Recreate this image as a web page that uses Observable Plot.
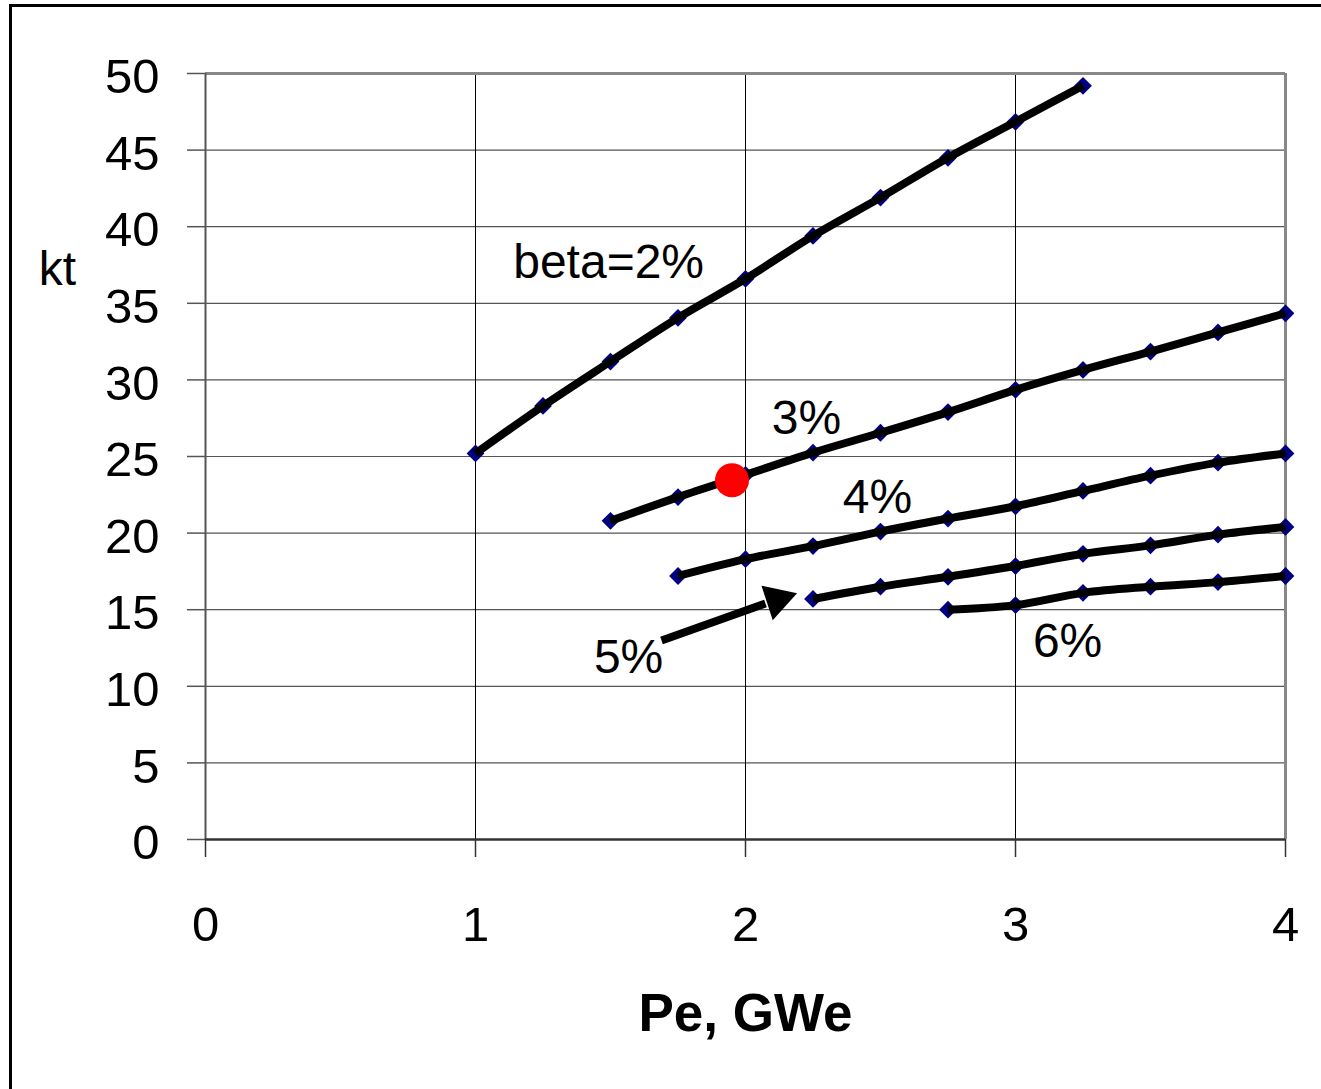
<!DOCTYPE html>
<html>
<head>
<meta charset="utf-8">
<script src="https://cdn.jsdelivr.net/npm/d3@7"></script>
<script src="https://cdn.jsdelivr.net/npm/@observablehq/plot@0.6"></script>
<style>
  html, body { margin: 0; padding: 0; background: #fff; }
  #wrap { position: relative; width: 1321px; height: 1089px; overflow: hidden; }
  #edge { position: absolute; left: 9px; top: 4px; width: 1400px; height: 1200px;
          border-top: 3px solid #000; border-left: 3px solid #000; pointer-events: none; }
</style>
</head>
<body>
<div id="wrap"><div id="edge"></div></div>
<script>
// Electric power Pe (GWe) at each computed point, step 0.25
const pe2 = [1, 1.25, 1.5, 1.75, 2, 2.25, 2.5, 2.75, 3, 3.25];
const pe3 = [1.5, 1.75, 2, 2.25, 2.5, 2.75, 3, 3.25, 3.5, 3.75, 4];
const pe4 = [1.75, 2, 2.25, 2.5, 2.75, 3, 3.25, 3.5, 3.75, 4];
const pe5 = [2.25, 2.5, 2.75, 3, 3.25, 3.5, 3.75, 4];
const pe6 = [2.75, 3, 3.25, 3.5, 3.75, 4];

// Mass (kt) for each beta value
const kt2 = [25.2, 28.3, 31.2, 34.05, 36.6, 39.4, 41.9, 44.5, 46.85, 49.2];
const kt3 = [20.8, 22.35, 23.8, 25.25, 26.55, 27.9, 29.35, 30.65, 31.85, 33.1, 34.35];
const kt4 = [17.2, 18.3, 19.15, 20.1, 20.95, 21.75, 22.75, 23.75, 24.6, 25.2];
const kt5 = [15.7, 16.5, 17.15, 17.85, 18.65, 19.2, 19.9, 20.4];
const kt6 = [15.0, 15.3, 16.1, 16.5, 16.8, 17.2];

const betaNames = ["2%", "3%", "4%", "5%", "6%"];

// Highlighted design point
const designPe = [1.95];
const designKt = [23.45];

// Curve labels and their centre points (Pe, kt)
const labelText = ["beta=2%", "3%", "4%", "5%", "6%"];
const labelPe = [1.493, 2.226, 2.489, 1.567, 3.193];
const labelKt = [37.66, 27.5, 22.3, 11.9, 12.9];

// Pointer from the "5%" label to its curve (tail, head base, head centre)
const pointerPe = [1.689, 2.074, 2.117];
const pointerKt = [12.99, 15.40, 15.65];

// Axis ticks
const xTicks = [0, 1, 2, 3, 4];
const yTicks = [0, 5, 10, 15, 20, 25, 30, 35, 40, 45, 50];

const series = [
  {name: betaNames[0], pe: pe2, kt: kt2},
  {name: betaNames[1], pe: pe3, kt: kt3},
  {name: betaNames[2], pe: pe4, kt: kt4},
  {name: betaNames[3], pe: pe5, kt: kt5},
  {name: betaNames[4], pe: pe6, kt: kt6}
];
const rows = series.flatMap(s => s.pe.map((p, i) => ({beta: s.name, pe: p, kt: s.kt[i]})));
const labels = labelText.map((t, i) => ({text: t, pe: labelPe[i], kt: labelKt[i]}));
const design = designPe.map((p, i) => ({pe: p, kt: designKt[i]}));
const pointer = {x1: pointerPe[0], y1: pointerKt[0], x2: pointerPe[1], y2: pointerKt[1]};
const head = {pe: pointerPe[2], kt: pointerKt[2]};

const font = "'Liberation Sans', Arial, Helvetica, sans-serif";

const chart = Plot.plot({
  width: 1321,
  height: 1089,
  marginLeft: 205,
  marginRight: 36,
  marginTop: 73,
  marginBottom: 250,
  style: {fontFamily: font, background: "transparent", color: "#000", overflow: "visible"},
  x: {domain: [0, 4]},
  y: {domain: [0, 50]},
  marks: [
    Plot.gridY(yTicks.filter(t => t > 0 && t < 50), {stroke: "#555", strokeOpacity: 1, strokeWidth: 1.2}),
    Plot.gridX(xTicks.filter(t => t > 0 && t < 4), {stroke: "#000", strokeOpacity: 1, strokeWidth: 1}),
    Plot.ruleY([50], {stroke: "#888", strokeWidth: 3}),
    Plot.ruleX([4], {stroke: "#888", strokeWidth: 3}),
    Plot.ruleX([0], {stroke: "#555", strokeWidth: 2}),
    Plot.ruleY([0], {stroke: "#333", strokeWidth: 2.5}),
    // y ticks and, separately, their labels (labels sit a little below each tick)
    Plot.axisY(yTicks, {tickSize: 18, stroke: "#555", strokeWidth: 1.5, label: null, tickFormat: () => ""}),
    Plot.axisY(yTicks, {tickSize: 0, tickPadding: 46, dy: 4, fontSize: 49, label: null, tickFormat: d => String(d)}),
    Plot.axisX(xTicks, {tickSize: 18, tickPadding: 49, fontSize: 49, stroke: "#333", strokeWidth: 1.5, label: null, tickFormat: d => String(d)}),
    Plot.dot(rows, {x: "pe", y: "kt", symbol: "diamond2", r: 8, fill: "#000080", stroke: "none"}),
    Plot.line(rows, {x: "pe", y: "kt", z: "beta", stroke: "#000", strokeWidth: 8, strokeLinecap: "butt", strokeLinejoin: "round", curve: "monotone-x"}),
    Plot.dot(design, {x: "pe", y: "kt", r: 17, fill: "#ff0000", stroke: "none"}),
    Plot.link([pointer], {x1: "x1", y1: "y1", x2: "x2", y2: "y2", stroke: "#000", strokeWidth: 8, strokeLinecap: "butt"}),
    Plot.dot([head], {x: "pe", y: "kt", symbol: "triangle", r: 13.5, rotate: 72, fill: "#000", stroke: "none"}),
    Plot.text(labels, {x: "pe", y: "kt", text: "text", textAnchor: "middle", fontSize: 48, fill: "#000", lineAnchor: "middle"}),
    Plot.text(["kt"], {frameAnchor: "left", y: [37.3], text: d => d, dx: -148, dy: 2, textAnchor: "middle", fontSize: 48, fill: "#000"}),
    Plot.text(["Pe, GWe"], {frameAnchor: "bottom", text: d => d, dy: 191, textAnchor: "middle", fontSize: 53, fontWeight: "bold", fill: "#000"})
  ]
});
document.getElementById("wrap").insertBefore(chart, document.getElementById("edge"));
</script>
</body>
</html>
